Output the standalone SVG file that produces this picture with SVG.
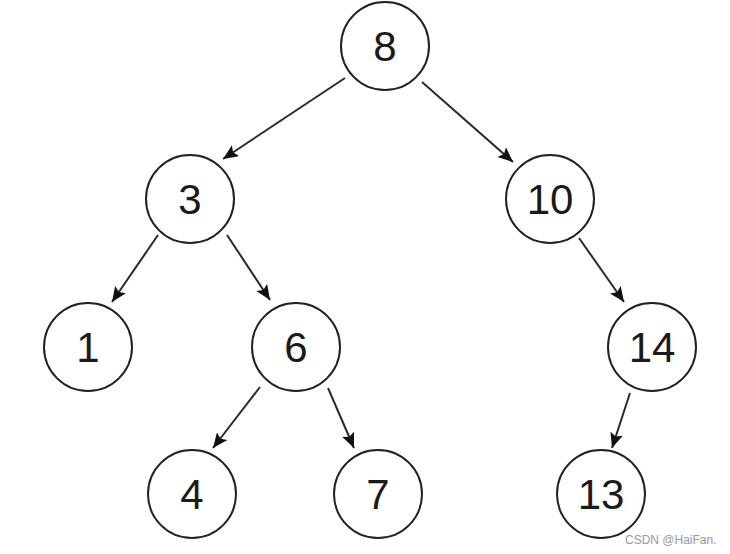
<svg xmlns="http://www.w3.org/2000/svg" width="730" height="554" viewBox="0 0 730 554">
<style>
.n circle{fill:#fff;stroke:#222;stroke-width:2}
.n text{font-family:"Liberation Sans",Arial,sans-serif;font-size:42px;fill:#1a1a1a;text-anchor:middle;dominant-baseline:central}
.e line{stroke:#2a2a2a;stroke-width:2;marker-end:url(#ah)}
.wm{font-family:"Liberation Sans",Arial,sans-serif;font-size:12px;fill:#999}
</style>
<defs>
<marker id="ah" markerUnits="userSpaceOnUse" markerWidth="16" markerHeight="14" refX="15" refY="6.5" orient="auto">
<path d="M0,0 L15,6.5 L0,13 L3,6.5 z" fill="#111"/>
</marker>
</defs>
<rect width="730" height="554" fill="#fff"/>
<g id="edges" class="e">
<line x1="345" y1="78" x2="223" y2="159"/>
<line x1="422" y1="82" x2="513" y2="162"/>
<line x1="158" y1="235" x2="112" y2="302"/>
<line x1="227" y1="235" x2="270" y2="300"/>
<line x1="579" y1="238" x2="624" y2="302"/>
<line x1="260" y1="387" x2="213" y2="448"/>
<line x1="328" y1="388" x2="354" y2="448"/>
<line x1="630" y1="393" x2="612" y2="448"/>
</g>
<g id="n8" class="n"><circle cx="385" cy="46" r="44"/><text x="385" y="46">8</text></g>
<g id="n3" class="n"><circle cx="190" cy="199" r="44"/><text x="190" y="199">3</text></g>
<g id="n10" class="n"><circle cx="550" cy="199" r="44"/><text x="550" y="199">10</text></g>
<g id="n1" class="n"><circle cx="88" cy="347" r="44"/><text x="88" y="347">1</text></g>
<g id="n6" class="n"><circle cx="296" cy="347" r="44"/><text x="296" y="347">6</text></g>
<g id="n14" class="n"><circle cx="652" cy="347" r="44"/><text x="652" y="347">14</text></g>
<g id="n4" class="n"><circle cx="192" cy="494" r="44"/><text x="192" y="494">4</text></g>
<g id="n7" class="n"><circle cx="378" cy="494" r="44"/><text x="378" y="494">7</text></g>
<g id="n13" class="n"><circle cx="601" cy="494" r="44"/><text x="601" y="494">13</text></g>
<text class="wm" x="625" y="544">CSDN @HaiFan.</text>
</svg>
